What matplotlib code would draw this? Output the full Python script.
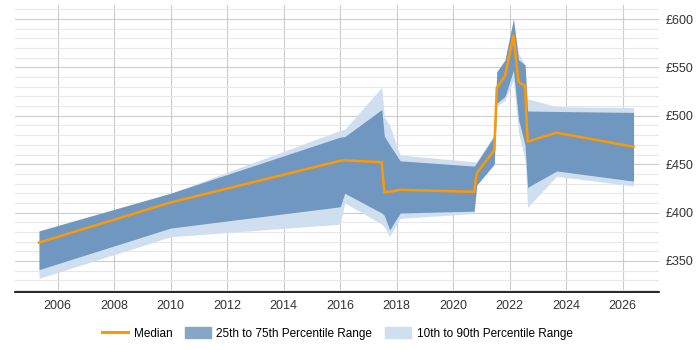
import numpy as np
import matplotlib.pyplot as plt
from matplotlib.ticker import MultipleLocator, FuncFormatter
from matplotlib.lines import Line2D
from matplotlib.patches import Patch

plt.rcParams['font.family'] = ['Liberation Sans', 'DejaVu Sans']

# data (year, GBP daily rate)
years = [2005.34, 2010.0, 2016.0, 2016.16, 2017.47, 2017.56, 2017.75, 2018.12,
         2020.74, 2020.83, 2021.45, 2021.54, 2021.83, 2022.13, 2022.31, 2022.54,
         2022.63, 2023.66, 2026.38]
median = [369, 410.5, 453.5, 454, 452, 421, 421.5, 423.5,
          421.5, 440.5, 464.5, 529, 541, 583, 535, 531,
          473.5, 482.5, 468]
p75 = [381, 420, 478, 478.5, 506.5, 479, 470, 453.5,
       448, 451.5, 479, 545.5, 557.5, 600, 558, 552.5,
       505, 504.5, 503.5]
p25 = [341, 384, 406, 420, 399.5, 397, 382, 399.5,
       401.5, 428.5, 450, 513, 520, 547, 496, 470,
       426, 443, 432.5]
p90 = [381, 420, 485, 486, 529.5, 499, 490, 459.5,
       452.5, 452.5, 481, 545.5, 558, 600, 564.5, 553,
       517.5, 509.5, 508.5]
p10 = [332, 375, 388, 410, 388, 385, 375.5, 394,
       399, 428, 450, 510, 516, 537, 482, 455,
       405.5, 437.5, 427.5]

fig = plt.figure(figsize=(7, 3.5), dpi=100)
ax = fig.add_axes([0.0214, 0.166, 0.92, 0.8196])

ax.fill_between(years, p10, p90, color='#cfdfef', lw=0, zorder=2)
ax.fill_between(years, p25, p75, color='#7097bf', lw=0, zorder=3)
ax.plot(years, median, color='#ff9900', lw=1.8, zorder=4)

ax.set_xlim(2004.49, 2027.28)
ax.set_ylim(318, 614.5)
ax.xaxis.set_major_locator(MultipleLocator(2))
ax.yaxis.set_major_locator(MultipleLocator(50))
ax.yaxis.set_minor_locator(MultipleLocator(10))
ax.yaxis.set_major_formatter(FuncFormatter(lambda v, p: f"£{v:.0f}"))
ax.yaxis.tick_right()
ax.tick_params(axis='both', which='both', length=0, labelsize=9, colors='#333333')
ax.tick_params(axis='x', pad=6)
ax.tick_params(axis='y', pad=5)

ax.grid(True, which='major', axis='both', color='#cccccc', lw=0.8, zorder=0)
ax.grid(True, which='minor', axis='y', color='#e8e8e8', lw=0.8, zorder=0)
ax.set_axisbelow(True)
for s in ['top', 'right', 'left']:
    ax.spines[s].set_visible(False)
ax.spines['bottom'].set_color('black')
ax.spines['bottom'].set_linewidth(1.2)

handles = [Line2D([0], [0], color='#ff9900', lw=2.2),
           Patch(color='#87a6c6'),
           Patch(color='#cfdfef')]
labels = ['Median', '25th to 75th Percentile Range', '10th to 90th Percentile Range']
fig.legend(handles, labels, loc='center', bbox_to_anchor=(0.482, 0.047), ncol=3,
           frameon=False, fontsize=8.5, handlelength=2.2, handleheight=1.0,
           columnspacing=1.1, handletextpad=0.45)

fig.savefig('out.png', dpi=100)
